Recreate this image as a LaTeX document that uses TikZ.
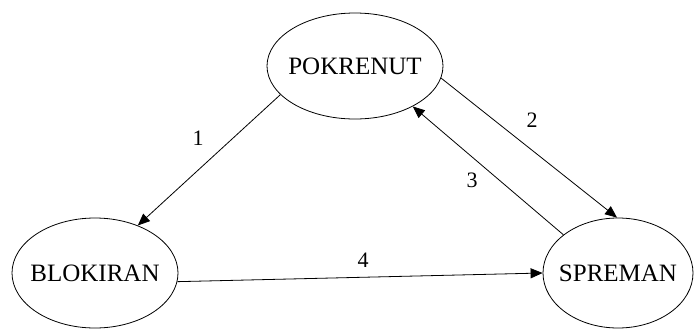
\documentclass[tikz,border=0pt]{standalone}
\usepackage{fontspec}
\setmainfont{Liberation Serif}
\usetikzlibrary{shapes.geometric,arrows.meta}

\begin{document}
\begin{tikzpicture}[x=1pt,y=-1pt,
  stanje/.style={draw,ellipse,line width=0.8pt,inner sep=0pt},
  ime/.style={font=\fontsize{25}{30}\selectfont},
  prijelaz/.style={-{Triangle[length=12pt,width=10pt]},line width=0.8pt},
  broj/.style={font=\fontsize{22}{26}\selectfont}]
  \useasboundingbox (0,0) rectangle (696,330);

  % States
  \node[stanje,minimum width=176pt,minimum height=106pt,
    label={[ime]center:POKRENUT}] (pok) at (355,66) {};
  \node[stanje,minimum width=166pt,minimum height=110pt,
    label={[ime]center:BLOKIRAN}] (blok) at (95,273) {};
  \node[stanje,minimum width=150pt,minimum height=110pt,
    label={[ime]center:SPREMAN}] (spr) at (618,273) {};

  % Transitions
  \draw[prijelaz] (pok.201) -- (blok.48);  % 1
  \draw[prijelaz] (pok.352) -- (spr.91);   % 2
  \draw[prijelaz] (spr.145) -- (pok.325);  % 3
  \draw[prijelaz] (blok.354) -- (spr.180); % 4

  % Numbering
  \node[broj] (n1) at (198,138) {1};
  \node[broj] (n2) at (532,120) {2};
  \node[broj] (n3) at (472,180) {3};
  \node[broj] (n4) at (363,260) {4};
\end{tikzpicture}
\end{document}
